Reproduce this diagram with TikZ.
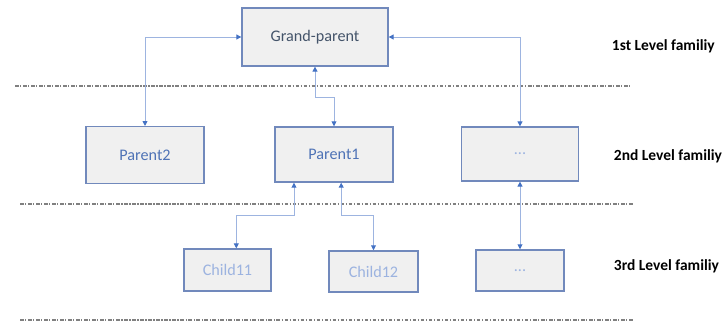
\documentclass[tikz,border=0pt]{standalone}
\usepackage{fontspec}
\setmainfont{Carlito}
\usetikzlibrary{arrows.meta}

\definecolor{caixaborda}{HTML}{7189BC}
\definecolor{caixafundo}{HTML}{F0F0F0}
\definecolor{linhaazul}{HTML}{9DB4E0}
\definecolor{pontaazul}{HTML}{4472C4}
\definecolor{textoescuro}{HTML}{44546A}
\definecolor{textomedio}{HTML}{4F73B6}
\definecolor{textoclaro}{HTML}{9CB3E0}

\begin{document}
\begin{tikzpicture}[
    x=0.025cm, y=-0.025cm,
    font=\fontsize{11.5}{13}\selectfont,
    % Estilo das caixas da arvore
    caixa/.style={draw=caixaborda, fill=caixafundo, line width=0.9pt, inner sep=0pt},
    % Conectores com ponta nas duas extremidades
    liga/.style={linhaazul, semithick,
        {Triangle[length=3.5pt,width=3.5pt,color=pontaazul]}-{Triangle[length=3.5pt,width=3.5pt,color=pontaazul]}},
    divisa/.style={gray, line width=0.9pt, dash pattern=on 2.5pt off 1.2pt on 0.8pt off 1.2pt},
    nivel/.style={font=\fontsize{11}{13}\selectfont\bfseries, anchor=west}
]

% =========================================================
% === MOLDURA (mesmas proporcoes da imagem: 725 x 322) ===
% =========================================================
\useasboundingbox (0,0) rectangle (725,322);

% --- Nivel 1 ---
\node[caixa, minimum width=3.65cm, minimum height=1.45cm, text=textoescuro] (GP) at (315,37) {Grand-parent};

% --- Nivel 2 ---
\node[caixa, minimum width=2.95cm, minimum height=1.42cm, text=textomedio] (P2) at (145,155) {Parent2};
\node[caixa, minimum width=2.95cm, minimum height=1.38cm, text=textomedio] (P1) at (334,154.5) {Parent1};
\node[caixa, minimum width=2.93cm, minimum height=1.35cm, text=textoclaro] (PX) at (520,154) {...};

% --- Nivel 3 ---
\node[caixa, minimum width=2.18cm, minimum height=1.05cm, text=textoclaro] (C11) at (227.5,270) {Child11};
\node[caixa, minimum width=2.22cm, minimum height=1.03cm, text=textoclaro] (C12) at (373.5,271.5) {Child12};
\node[caixa, minimum width=2.2cm, minimum height=1.03cm, text=textoclaro] (CX) at (520,270.5) {...};

% --- Rotulos dos niveis ---
\node[nivel] (N1) at (607,46) {1st Level familiy};
\node[nivel] (N2) at (609,156) {2nd Level familiy};
\node[nivel] (N3) at (609,266) {3rd Level familiy};

% --- Linhas divisorias ---
\draw[divisa] (15,86) -- (630,86);
\draw[divisa] (20,204) -- (633,204);
\draw[divisa] (20,320) -- (633,320);

% --- Conectores nivel 1 -> nivel 2 ---
\draw[liga] (GP.west) -| (P2.north);
\draw[liga] (GP.east) -| (PX.north);
\draw[liga] (GP.south) -- ++(0,31) -| (P1.north);

% --- Conectores nivel 2 -> nivel 3 ---
\draw[liga] ([xshift=-1cm]P1.south) -- ++(0,33) -| ([xshift=0.22cm]C11.north);
\draw[liga] ([xshift=0.18cm]P1.south) -- ++(0,33) -| (C12.north);
\draw[liga] (PX.south) -- (CX.north);

\end{tikzpicture}
\end{document}
